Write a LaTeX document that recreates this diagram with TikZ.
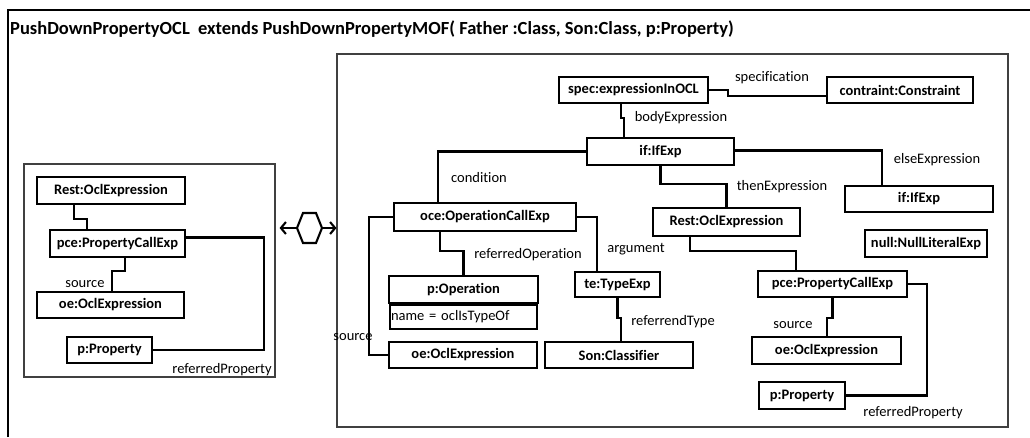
\documentclass[tikz,border=0pt]{standalone}
\usepackage{fontspec}
\setmainfont{Carlito}[Ligatures=NoCommon]
\usetikzlibrary{arrows.meta}
\tikzset{
	obj/.style={draw, line width=2.1pt, inner sep=0pt, font=\bfseries\fontsize{14.5}{16}\selectfont},
	attr/.style={draw, line width=2.1pt, inner sep=1pt, text width=145pt, align=left, font=\fontsize{14.5}{16}\selectfont},
	lbl/.style={inner sep=0pt, font=\fontsize{14.5}{16}\selectfont},
	link/.style={line width=2.1pt},
	frame/.style={draw=black!75, line width=1.1pt, inner sep=0pt}
}

\begin{document}
\begin{tikzpicture}[x=1pt, y=-1pt]
			%%%%% START %%%%%
			\useasboundingbox (0,0) rectangle (1030,437);
			
			\draw[line width=1.3pt] (8,437) -- (8,10) -- (1030,10);
			\node[lbl, anchor=west, font=\bfseries\fontsize{18.5}{20}\selectfont] (title) at (10,29) {PushDownPropertyOCL\ \ extends PushDownPropertyMOF( Father :Class, Son:Class, p:Property)};
			
			\node[frame, minimum width=251pt, minimum height=213pt] (leftframe) at (149.5,270.5) {};
			\node[frame, minimum width=671pt, minimum height=373pt] (rightframe) at (672.5,240.5) {};
			
			%%%%% left side %%%%%
			\node[obj, minimum width=148pt, minimum height=27pt] (restL) at (111,190.5) {Rest:OclExpression};
			\node[obj, minimum width=135pt, minimum height=27pt] (pceL) at (117.5,243.5) {pce:PropertyCallExp};
			\node[obj, minimum width=147pt, minimum height=26pt] (oeL) at (110.5,305) {oe:OclExpression};
			\node[obj, minimum width=85pt, minimum height=26pt] (propL) at (109.5,350) {p:Property};
			
			\draw[link] ([xshift=-37pt]restL.south) -- ++(0,14) -| ([xshift=-30.5pt]pceL.north);
			\draw[link] ([xshift=7.5pt]pceL.south) -- ++(0,13) -| ([xshift=1.5pt]oeL.north);
			\draw[link] ([yshift=6pt]pceL.east) -- ++(78,0) |- (propL.east);
			\node[lbl] (srcL) at (85,284) {source};
			\node[lbl] (refpropL) at (222,370) {referredProperty};
			
			%%%%% hexagon %%%%%
			\coordinate (hexc) at (309.5,228);
			\draw[link, {Straight Barb[length=5pt,width=12pt]}-{Straight Barb[length=5pt,width=12pt]}] ([xshift=4pt]leftframe.east |- hexc) -- (rightframe.west |- hexc);
			\draw[link, fill=white] (297,228) -- (303,213) -- (316,213) -- (322,228) -- (316,243) -- (303,243) -- cycle;
			
			%%%%% right side %%%%%
			\node[obj, minimum width=149pt, minimum height=26pt] (spec) at (633.5,90) {spec:expressionInOCL};
			\node[obj, minimum width=146pt, minimum height=26pt] (constr) at (900,90) {contraint:Constraint};
			\node[obj, minimum width=147pt, minimum height=27pt] (ifA) at (660.5,151.5) {if:IfExp};
			\node[obj, minimum width=182pt, minimum height=28pt] (oce) at (485,217) {oce:OperationCallExp};
			\node[obj, minimum width=147pt, minimum height=28pt] (restR) at (726.5,222) {Rest:OclExpression};
			\node[obj, minimum width=148pt, minimum height=26pt] (ifB) at (919,199) {if:IfExp};
			\node[obj, minimum width=122pt, minimum height=27pt] (nullR) at (926,243.5) {null:NullLiteralExp};
			\node[obj, minimum width=149pt, minimum height=26pt] (pceR) at (832.5,284) {pce:PropertyCallExp};
			\node[obj, minimum width=149pt, minimum height=27pt] (oper) at (463.5,289.5) {p:Operation};
			\node[attr, minimum height=24pt, anchor=north] (operattr) at (oper.south) {name = oclIsTypeOf};
			\node[obj, minimum width=85pt, minimum height=25pt] (te) at (617.5,284.5) {te:TypeExp};
			\node[obj, minimum width=148pt, minimum height=26pt] (son) at (619,355) {Son:Classifier};
			\node[obj, minimum width=148pt, minimum height=26pt] (oeR) at (463,355) {oe:OclExpression};
			\node[obj, minimum width=149pt, minimum height=27pt] (oeR2) at (826.5,350.5) {oe:OclExpression};
			\node[obj, minimum width=86pt, minimum height=27pt] (propR) at (802,395.5) {p:Property};
			
			\draw[link] (spec.east) -- ++(19,0) |- ([yshift=-6pt]constr.west);
			\draw[link] ([xshift=-12.5pt]spec.south) -- ++(0,14) -| ([xshift=-36.5pt]ifA.north);
			\draw[link] (ifA.west) -| ([xshift=-47pt]oce.north);
			\draw[link] (ifA.south) -- ++(0,18) -| (restR.north);
			\draw[link] ([yshift=1pt]ifA.east) -| ([xshift=-37pt]ifB.north);
			\draw[link] ([xshift=-36.5pt]restR.south) -- ++(0,14) -| ([xshift=-36.5pt]pceR.north);
			\draw[link] ([xshift=-45pt]oce.south) -- ++(0,19) -| (oper.north);
			\draw[link] (oce.east) -| ([xshift=-20.5pt]te.north);
			\draw[link] (te.south) -- ++(0,20) -| ([xshift=2pt]son.north);
			\draw[link] (oce.west) -- ++(-24,0) |- (oeR.west);
			\draw[link] (pceR.south) -- ++(0,20) -| ([xshift=0.5pt]oeR2.north);
			\draw[link] (pceR.east) -- ++(19,0) |- (propR.east);
			
			\node[lbl] (speclbl) at (772,78) {specification};
			\node[lbl] (bodylbl) at (681,118) {bodyExpression};
			\node[lbl] (condlbl) at (479,178) {condition};
			\node[lbl] (thenlbl) at (782,187) {thenExpression};
			\node[lbl] (elselbl) at (937,160) {elseExpression};
			\node[lbl] (reflbl) at (528,255) {referredOperation};
			\node[lbl] (arglbl) at (636,249) {argument};
			\node[lbl] (typelbl) at (673,322) {referrendType};
			\node[lbl] (srcR) at (353,337) {source};
			\node[lbl] (srcR2) at (793,325) {source};
			\node[lbl] (refpropR) at (913,413) {referredProperty};
			
			%%%%% END %%%%%
		\end{tikzpicture}
\end{document}
